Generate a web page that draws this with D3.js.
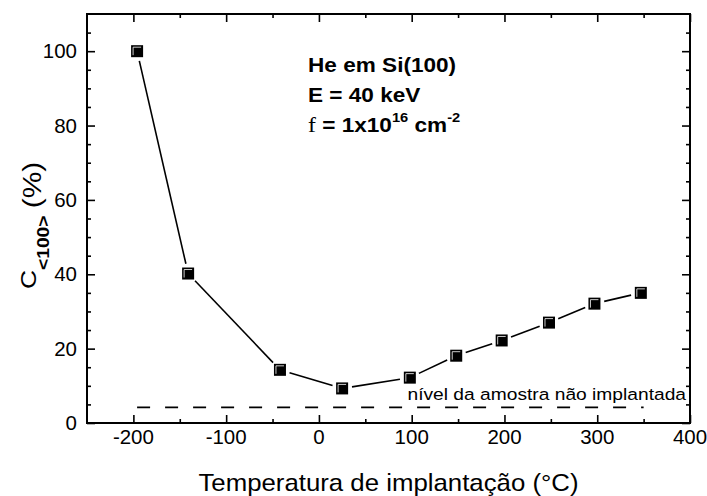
<!DOCTYPE html>
<html><head><meta charset="utf-8">
<script src="https://cdn.jsdelivr.net/npm/d3@7"></script>
<style>body{margin:0;background:#fff}svg{display:block}text{font-family:"Liberation Sans",Arial,sans-serif}</style>
</head><body>
<svg id="c" width="707" height="496"></svg>
<script>
const temperatures = [-196, -141, -42, 25, 98, 148, 197, 248, 297, 347];
const channeling = [100, 40.2, 14.3, 9.3, 12.2, 18.1, 22.2, 27.0, 32.1, 35.0];
const xTicks = [-200, -100, 0, 100, 200, 300, 400];
const yTicks = [0, 20, 40, 60, 80, 100];
const unimplantedLevel = 4.2;
const unimplantedRange = [-196, 350];
const levelLabel = "nível da amostra não implantada";
const xTitle = "Temperatura de implantação (°C)";

const svg = d3.select("#c");
const L = 87, R = 690, T = 14, B = 423;
const x = d3.scaleLinear().domain([-250, 400]).range([L, R]);
const y = d3.scaleLinear().domain([0, 110]).range([B, T]);

const xMinor = d3.range(-250, 401, 50).filter(v => !xTicks.includes(v) && v > -250);
const yMinor = d3.range(5, 111, 5).filter(v => !yTicks.includes(v) && v < 110);

function styleAxis(g){ g.select(".domain").remove(); g.selectAll("line").attr("stroke","#000").attr("stroke-width",1.6); g.selectAll("text").remove(); }
function ax(fn, pos, vals, size){
  const g = svg.append("g").attr("transform", pos);
  g.call(fn.tickValues(vals).tickSize(size).tickFormat("")).call(styleAxis);
  return g;
}
ax(d3.axisBottom(x), `translate(0,${B})`, xTicks, -8);
ax(d3.axisBottom(x), `translate(0,${B})`, xMinor, -4);
ax(d3.axisTop(x), `translate(0,${T})`, xTicks, -8);
ax(d3.axisTop(x), `translate(0,${T})`, xMinor, -4);
ax(d3.axisLeft(y), `translate(${L},0)`, yTicks, -8);
ax(d3.axisLeft(y), `translate(${L},0)`, yMinor, -4);
ax(d3.axisRight(y), `translate(${R},0)`, yTicks, -8);
ax(d3.axisRight(y), `translate(${R},0)`, yMinor, -4);

// stretched text helper
function stext(parent, px, py, sx, size, anchor, str){
  return parent.append("text").attr("transform",`translate(${px},${py}) scale(${sx},1)`)
    .attr("font-size",size).attr("text-anchor",anchor||"start").text(str);
}
// tick labels (hyphen-minus as in reference)
xTicks.forEach(v => stext(svg, x(v), 444, 1.05, 19.5, "middle", String(v)));
yTicks.forEach(v => stext(svg, L-10, y(v)+7, 1.05, 19.5, "end", String(v)));

// frame
svg.append("rect").attr("x",L).attr("y",T).attr("width",R-L).attr("height",B-T)
  .attr("fill","none").attr("stroke","#000").attr("stroke-width",2);

// dashed reference level
svg.append("line").attr("x1",x(unimplantedRange[0])).attr("x2",x(unimplantedRange[1]))
  .attr("y1",y(unimplantedLevel)).attr("y2",y(unimplantedLevel))
  .attr("stroke","#000").attr("stroke-width",1.6).attr("stroke-dasharray","13,15");
stext(svg, x(400)-4, y(unimplantedLevel)-7, 1.13, 17, "end", levelLabel);

// line segments with gaps around markers
const pts = temperatures.map((t,i)=>[x(t), y(channeling[i])]);
const gap = 10;
for(let i=0;i<pts.length-1;i++){
  const [x1,y1]=pts[i],[x2,y2]=pts[i+1];
  const dx=x2-x1, dy=y2-y1, d=Math.hypot(dx,dy);
  const ux=dx/d, uy=dy/d;
  svg.append("line").attr("x1",x1+ux*gap).attr("y1",y1+uy*gap).attr("x2",x2-ux*gap).attr("y2",y2-uy*gap)
    .attr("stroke","#000").attr("stroke-width",1.6);
}
// markers
const s = 12;
const mk = svg.append("g").selectAll("g").data(pts).join("g").attr("transform",d=>`translate(${d[0]},${d[1]})`);
mk.append("rect").attr("x",-s/2).attr("y",-s/2).attr("width",s).attr("height",s).attr("fill","#000");
mk.append("path").attr("d",`M${-s/2+2},${s/2-2}V${-s/2+2}H${s/2-2}`).attr("fill","none").attr("stroke","#fff").attr("stroke-width",0.8);

// annotation
const ann = svg.append("g").attr("font-weight","bold");
stext(ann, 308, 72, 1.13, 20, "start", "He em Si(100)");
stext(ann, 308, 102, 1.13, 20, "start", "E = 40 keV");
const t3 = stext(ann, 308, 132, 1.13, 20, "start", "");
t3.append("tspan").attr("font-family","Liberation Serif, Times New Roman, serif").attr("font-weight","normal").attr("font-size",21).text("f");
t3.append("tspan").text(" = 1x10");
t3.append("tspan").attr("font-size",13).attr("dy",-10).text("16");
t3.append("tspan").attr("dy",10).text(" cm");
t3.append("tspan").attr("font-size",13).attr("dy",-10).text("-2");

// y title
const yt = svg.append("text").attr("transform","translate(36,289) rotate(-90) scale(1.2,1)");
yt.append("tspan").attr("font-size",22).text("C");
yt.append("tspan").attr("font-size",16).attr("font-weight","bold").attr("dy",13).text("<100>");
yt.append("tspan").attr("font-size",25).attr("dy",-8).attr("dx",6).text("(%)");

// x title
stext(svg, (L+R)/2, 491, 1.075, 24, "middle", xTitle);
</script>
</body></html>
